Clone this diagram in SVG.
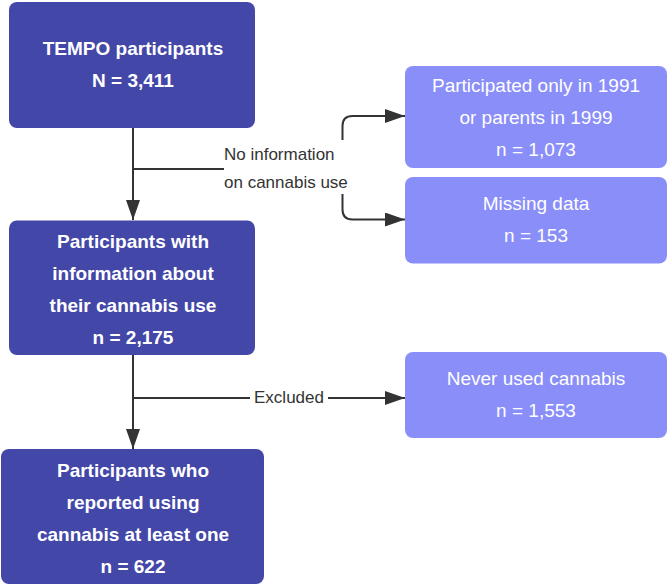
<svg xmlns="http://www.w3.org/2000/svg" width="669" height="585" viewBox="0 0 669 585">
<style>
.d{fill:#4347a8}.l{fill:#8a8ef8}
.t{font-family:"Liberation Sans",Arial,sans-serif;font-size:19px;fill:#fff;text-anchor:middle}
.b{font-weight:bold}
.c{fill:none;stroke:#333;stroke-width:2}
.lab{font-family:"Liberation Sans",Arial,sans-serif;font-size:17px;fill:#333}
</style>
<defs><marker id="a" viewBox="0 0 10 10" refX="10" refY="5" markerWidth="10" markerHeight="10" markerUnits="userSpaceOnUse" orient="auto"><path d="M0,0L10,5L0,10z" fill="#333"/></marker>
<marker id="a2" viewBox="0 0 10 10" refX="10" refY="5" markerWidth="20" markerHeight="14" markerUnits="userSpaceOnUse" orient="auto" preserveAspectRatio="none"><path d="M0,0L10,5L0,10z" fill="#333"/></marker></defs>
<g id="connectors">
<path class="c" d="M133,128V220" marker-end="url(#a2)"/>
<path class="c" d="M133,169H224"/>
<path class="c" d="M342.5,140V126Q342.5,116 352.5,116H405" marker-end="url(#a2)"/>
<path class="c" d="M342.5,194V209.5Q342.5,219.5 352.5,219.5H405" marker-end="url(#a2)"/>
<path class="c" d="M133,355V449" marker-end="url(#a2)"/>
<path class="c" d="M133,398H250M328,398H405" marker-end="url(#a2)"/>
<text class="lab" x="224" y="160">No information</text>
<text class="lab" x="224" y="188">on cannabis use</text>
<text class="lab" x="289" y="403" text-anchor="middle" font-size="16">Excluded</text>
</g>
<g id="n1"><rect class="d" x="9" y="2" width="246" height="126" rx="8"/>
<text class="t b" x="133" y="55">TEMPO participants</text><text class="t b" x="133" y="87">N = 3,411</text></g>
<g id="n2"><rect class="d" x="9" y="220.5" width="246" height="134.5" rx="8"/>
<text class="t b" x="133" y="248">Participants with</text><text class="t b" x="133" y="280">information about</text><text class="t b" x="133" y="312">their cannabis use</text><text class="t b" x="133" y="344">n = 2,175</text></g>
<g id="n3"><rect class="d" x="1" y="449" width="263" height="135" rx="8"/>
<text class="t b" x="133" y="477">Participants who</text><text class="t b" x="133" y="509">reported using</text><text class="t b" x="133" y="541">cannabis at least one</text><text class="t b" x="133" y="573">n = 622</text></g>
<g id="n4"><rect class="l" x="405" y="66" width="262" height="102" rx="8"/>
<text class="t" x="536" y="92">Participated only in 1991</text><text class="t" x="536" y="124">or parents in 1999</text><text class="t" x="536" y="156">n = 1,073</text></g>
<g id="n5"><rect class="l" x="405" y="177" width="262" height="86.5" rx="8"/>
<text class="t" x="536" y="210">Missing data</text><text class="t" x="536" y="242">n = 153</text></g>
<g id="n6"><rect class="l" x="405" y="352" width="262" height="86" rx="8"/>
<text class="t" x="536" y="385">Never used cannabis</text><text class="t" x="536" y="417">n = 1,553</text></g>
</svg>
